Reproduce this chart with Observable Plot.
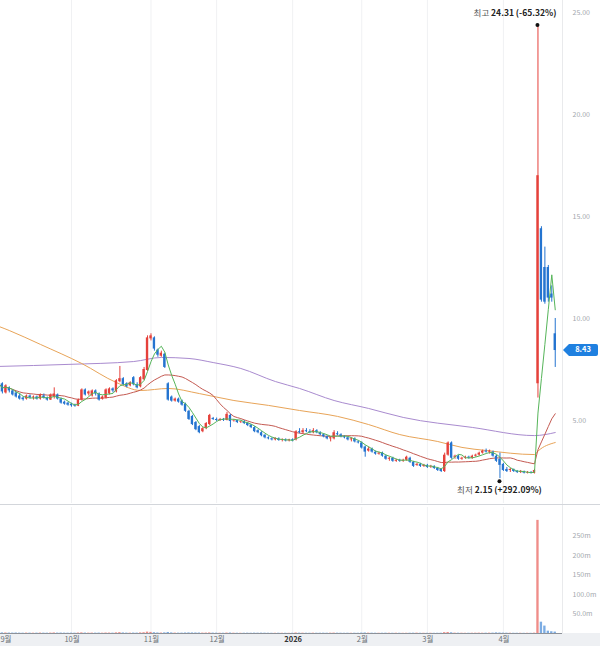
<!DOCTYPE html>
<html><head><meta charset="utf-8">
<script src="https://cdn.jsdelivr.net/npm/d3@7"></script>
<script src="https://cdn.jsdelivr.net/npm/@observablehq/plot@0.6"></script>
<style>
body{margin:0;background:#fff;font-family:'Noto Sans CJK KR',sans-serif;}
#wrap{width:600px;height:646px;position:relative;overflow:hidden}
#price{height:504px;border-bottom:1px solid #d3d6db}
#vol{height:141px;background:linear-gradient(#fff 0,#fff 128px,#eef0f3 128px)}
svg{display:block}
</style></head><body><div id="wrap"><div id="price"></div><div id="vol"></div></div>
<script>
// ---- data (daily OHLC, volume in millions) ----
const open=[6.95,6.8,6.35,6.6,6.45,6.35,6.2,6.1,6.05,6.2,6.1,6.15,6.05,6.2,6.1,6.0,6.15,6.25,6.05,5.9,5.85,5.8,5.75,5.7,6.0,6.5,6.3,6.2,6.45,6.3,6.05,6.1,6.3,6.55,6.4,6.9,7.05,6.8,6.7,7.1,6.75,6.65,7.0,7.45,9.0,9.05,8.45,8.15,8.25,6.8,6.15,5.95,6.05,5.95,5.8,5.45,5.2,4.9,4.7,4.45,4.6,4.8,5.1,5.05,5.0,5.05,5.0,5.25,4.98,5.0,4.92,4.95,4.85,4.78,4.65,4.5,4.4,4.28,4.15,4.1,4.05,4.1,4.02,4.05,4.0,4.05,4.05,4.45,4.4,4.5,4.45,4.4,4.5,4.4,4.3,4.2,4.1,4.1,4.35,4.3,4.2,4.15,4.05,4.1,3.95,3.9,3.7,3.5,3.6,3.45,3.35,3.4,3.25,3.1,3.15,3.0,3.05,3.0,3.05,3.15,2.95,2.8,2.85,2.75,2.8,2.72,2.75,2.65,2.6,2.5,3.3,3.9,3.2,3.25,3.1,3.15,3.2,3.15,3.25,3.3,3.4,3.5,3.45,3.45,3.25,3.1,2.85,2.6,2.55,2.6,2.5,2.45,2.5,2.42,2.45,2.4,6.8,14.4,12.5,12.5,11.2,9.25];
const high=[7.0,6.85,6.75,6.65,6.5,6.4,6.3,6.15,6.25,6.25,6.2,6.2,6.3,6.3,6.15,6.3,6.6,6.3,6.1,5.95,5.9,5.85,5.8,6.05,6.55,6.55,6.45,6.5,6.5,6.35,6.2,6.55,6.6,6.6,7.0,7.65,7.1,6.85,6.9,7.15,6.85,7.15,7.6,9.15,9.25,9.1,8.5,8.4,8.3,6.85,6.2,6.1,6.1,6.0,5.85,5.5,5.25,4.95,4.75,4.65,4.9,5.3,5.15,5.12,5.1,5.1,5.4,5.3,5.05,5.02,4.98,5.0,4.9,4.8,4.7,4.55,4.45,4.3,4.2,4.15,4.15,4.15,4.1,4.1,4.08,4.1,4.5,4.6,4.6,4.6,4.55,4.6,4.55,4.45,4.35,4.25,4.2,4.5,4.45,4.35,4.25,4.2,4.15,4.15,4.0,3.95,3.75,3.7,3.65,3.5,3.45,3.45,3.3,3.2,3.2,3.1,3.1,3.1,3.25,3.2,3.0,2.9,2.9,2.85,2.85,2.8,2.78,2.7,2.65,3.4,3.95,3.95,3.3,3.3,3.2,3.25,3.25,3.3,3.35,3.45,3.55,3.6,3.55,3.5,3.3,3.4,2.9,2.7,2.65,2.62,2.55,2.55,2.52,2.5,2.5,2.6,24.31,14.5,13.5,12.6,11.6,10.0];
const low=[6.7,6.3,6.3,6.35,6.2,6.1,6.0,5.95,6.0,6.05,6.0,6.0,6.0,6.05,5.95,5.98,6.05,6.0,5.8,5.75,5.7,5.65,5.65,5.68,5.95,6.2,6.2,6.15,6.2,5.95,6.0,6.05,6.25,6.35,6.35,6.85,6.7,6.6,6.65,6.7,6.55,6.6,6.95,7.4,8.9,8.4,8.1,8.1,7.55,5.95,5.9,5.9,5.85,5.7,5.4,5.0,4.75,4.5,4.35,4.4,4.55,4.75,5.0,4.95,4.95,4.95,4.98,4.65,4.92,4.85,4.85,4.8,4.7,4.6,4.4,4.35,4.2,4.1,4.05,4.0,4.0,3.98,3.95,3.95,3.95,3.95,4.0,4.35,4.35,4.4,4.35,4.35,4.35,4.25,4.15,4.05,3.95,4.05,4.25,4.15,4.1,4.0,3.95,3.9,3.85,3.6,3.2,3.45,3.4,3.3,3.3,3.2,3.05,3.0,2.95,2.95,2.95,2.95,3.0,2.9,2.7,2.75,2.7,2.7,2.65,2.65,2.6,2.5,2.45,2.45,3.25,3.1,3.1,3.05,3.05,3.1,3.1,3.1,3.2,3.25,3.35,3.4,3.35,3.2,2.95,2.15,2.5,2.45,2.45,2.45,2.4,2.4,2.38,2.38,2.38,2.38,6.1,10.8,10.7,10.8,10.8,7.6];
const close=[6.8,6.4,6.7,6.45,6.25,6.15,6.05,6.02,6.2,6.1,6.15,6.05,6.25,6.1,6.0,6.25,6.3,6.05,5.85,5.8,5.75,5.72,5.7,6.0,6.5,6.25,6.4,6.45,6.3,6.0,6.15,6.5,6.55,6.45,6.95,7.05,6.75,6.65,6.85,6.75,6.6,7.1,7.5,9.05,9.15,8.5,8.2,8.3,7.6,6.0,5.95,6.05,5.9,5.75,5.45,5.05,4.8,4.55,4.4,4.6,4.85,5.25,5.05,5.0,5.05,5.0,5.3,4.95,5.0,4.9,4.95,4.85,4.75,4.65,4.45,4.4,4.25,4.15,4.1,4.05,4.12,4.02,4.05,4.0,4.05,4.0,4.45,4.4,4.5,4.45,4.4,4.5,4.4,4.3,4.2,4.1,4.15,4.4,4.3,4.2,4.15,4.05,4.1,3.95,3.9,3.65,3.45,3.6,3.45,3.35,3.4,3.25,3.1,3.15,3.0,3.05,3.0,3.05,3.2,2.95,2.75,2.85,2.75,2.8,2.7,2.75,2.65,2.55,2.5,3.3,3.9,3.15,3.25,3.1,3.15,3.2,3.15,3.25,3.3,3.4,3.5,3.45,3.5,3.25,3.0,2.8,2.55,2.5,2.6,2.5,2.45,2.5,2.42,2.45,2.4,2.55,17.0,10.9,10.8,11.0,11.0,8.43];
const volume=[1.2,1.5,1.3,1.1,1.0,1.2,0.9,0.8,1.0,0.9,0.8,0.9,1.1,0.9,0.8,1.0,1.4,1.0,1.1,0.9,0.8,0.9,0.8,1.2,1.6,1.1,0.9,1.0,0.9,1.0,0.8,1.2,1.1,0.9,1.6,2.2,1.4,1.0,0.9,1.1,1.0,1.5,2.0,3.5,2.8,2.0,1.4,1.1,1.6,2.6,1.5,1.0,0.9,1.0,1.3,1.5,1.4,1.3,1.2,1.0,1.1,1.4,1.0,0.8,0.7,0.7,1.1,1.2,0.8,0.7,0.6,0.7,0.8,0.7,0.9,0.8,0.9,0.8,0.7,0.6,0.6,0.7,0.6,0.6,0.5,0.6,1.3,0.9,0.8,0.7,0.6,0.8,0.7,0.7,0.8,0.7,0.8,1.0,0.8,0.7,0.6,0.7,0.6,0.7,0.6,1.0,1.3,0.9,0.8,0.7,0.6,0.7,0.8,0.7,0.6,0.7,0.6,0.5,0.6,0.7,0.8,0.9,0.6,0.6,0.5,0.6,0.5,0.6,0.7,2.2,2.6,1.8,0.9,0.8,0.7,0.6,0.6,0.7,0.8,0.9,0.7,0.8,0.9,1.0,1.6,1.2,0.9,0.8,0.7,0.6,0.6,0.6,0.5,0.6,0.5,0.9,290,29,19,6,4.5,3.6];
// 60-day and 120-day moving averages (trading-day index, price)
const ma60Idx=[0,3,12,24,34,41,49,58,68,78,87,98,107,116,127,134,141,155,156,161];
const ma60=[9.61,9.41,8.73,7.79,6.86,6.47,6.57,6.32,5.98,5.74,5.49,5.2,4.8,4.31,3.97,3.68,3.53,3.33,3.5,3.92];
const ma120Idx=[0,20,39,47,55,62,70,80,87,97,107,117,137,155,161];
const ma120=[7.65,7.75,7.89,8.09,8.04,7.84,7.55,6.91,6.57,5.98,5.59,5.15,4.66,4.26,4.41];
const startDate="2025-09-02";
const holidays=["2025-11-27","2025-12-25","2026-01-01","2026-01-19","2026-02-16","2026-04-03"];
const yTicks=[5,10,15,20,25];
const volTicks=[50,100,150,200,250];
const volTickLabels=["50.0m","100.0m","150m","200m","250m"];
const highText=["최고","24.31 (-65.32%)"];
const lowText=["최저","2.15 (+292.09%)"];
const lastText="8.43";

const RED="#e5413b", BLUE="#2474d0";
const FONT="'Noto Sans CJK KR','Noto Sans',sans-serif";

// trading calendar
const dates=[]; {let d=new Date(startDate+"T00:00:00Z");
 while(dates.length<close.length){const w=d.getUTCDay(),s=d.toISOString().slice(0,10);
  if(w!==0&&w!==6&&!holidays.includes(s)) dates.push(new Date(d)); d.setUTCDate(d.getUTCDate()+1);}}
const bars=close.map((c,i)=>({i,date:dates[i],o:open[i],h:high[i],l:low[i],c,v:volume[i],col:c>=open[i]?RED:BLUE}));
const monthTicks=bars.filter((b,i)=>i===0||b.date.getUTCMonth()!==bars[i-1].date.getUTCMonth()).map(b=>b.i);
const monthLabel=i=>{const m=bars[i].date.getUTCMonth()+1;return m===1?String(bars[i].date.getUTCFullYear()):m+"월";};
const hiIdx=high.indexOf(d3.max(high)), loIdx=low.indexOf(d3.min(low));

const xDomain=[0.45,163.1];
const W=0.34;

const price=Plot.plot({
  width:600,height:504,marginTop:0,marginBottom:1,marginLeft:0,marginRight:38,
  style:{fontFamily:FONT,fontSize:"7px",background:"transparent",overflow:"visible"},
  x:{domain:xDomain,axis:null},
  y:{domain:[0.931,25.588]},
  color:{type:"identity"},
  marks:[
    Plot.ruleX(monthTicks,{stroke:"#f0f1f3"}),
    Plot.line(ma120,{x:ma120Idx,y:ma120,stroke:"#a98bcf",strokeWidth:1,curve:"monotone-x",clip:true}),
    Plot.line(ma60,{x:ma60Idx,y:ma60,stroke:"#e8a458",strokeWidth:1,curve:"monotone-x",clip:true}),
    Plot.lineY(bars,Plot.windowY({k:20,anchor:"end"},{x:"i",y:"c",stroke:"#c45a52",strokeWidth:1,clip:true})),
    Plot.ruleX(bars,{x:"i",y1:"l",y2:"h",stroke:"col",strokeWidth:1,clip:true}),
    Plot.rect(bars,{x1:d=>d.i-W,x2:d=>d.i+W,y1:"o",y2:"c",fill:"col",clip:true}),
    Plot.lineY(bars,Plot.windowY({k:5,anchor:"end"},{x:"i",y:"c",stroke:"#56b55a",strokeWidth:1,clip:true})),
    Plot.axisY({anchor:"right",ticks:yTicks,tickFormat:d=>d.toFixed(2),tickSize:0,tickPadding:10,fill:"#a3a7ad",label:null})
  ]
});
document.getElementById("price").appendChild(price);

const vol=Plot.plot({
  width:600,height:141,marginTop:2,marginBottom:13,marginLeft:0,marginRight:38,
  style:{fontFamily:FONT,fontSize:"7px",background:"transparent",overflow:"visible"},
  x:{domain:xDomain,axis:null},
  y:{domain:[0,323]},
  color:{type:"identity"},
  marks:[
    Plot.ruleX(monthTicks,{stroke:"#f0f1f3"}),
    Plot.rect(bars,{x1:d=>d.i-W,x2:d=>d.i+W,y1:0,y2:"v",fill:"col",fillOpacity:0.6,clip:true}),
    Plot.ruleY([0],{stroke:"#8d9299"}),
    Plot.axisY({anchor:"right",ticks:volTicks,tickFormat:d=>volTickLabels[volTicks.indexOf(d)],tickSize:0,tickPadding:10,fill:"#a3a7ad",label:null}),
    Plot.axisX({anchor:"bottom",ticks:monthTicks,tickFormat:monthLabel,tickSize:0,tickPadding:3,fill:"#6b7075",label:null,fontSize:"7.5px"})
  ]
});
document.getElementById("vol").appendChild(vol);
d3.select(vol).selectAll("text").filter(function(){return this.textContent==="2026";}).attr("font-weight","bold").attr("fill","#333");
// keep the first (partially off-chart) month label inside the picture
d3.select(vol).selectAll("text").filter(function(){return this.textContent===monthLabel(monthTicks[0]);})
  .attr("text-anchor","start").each(function(){const p=this.closest("g[transform]");}).attr("x",1).attr("dx",null);
d3.select(vol).selectAll("g").filter(function(){const t=this.querySelector(":scope > text");return t&&t.textContent===monthLabel(monthTicks[0]);})
  .each(function(){const tr=this.getAttribute("transform")||"";const m=tr.match(/translate\(([-\d.]+),([-\d.]+)\)/);if(m&&+m[1]<1)this.setAttribute("transform",`translate(1,${m[2]})`);});

// separators at right edge of plot area
for(const [svg,h] of [[price,504],[vol,128]]){
  d3.select(svg).append("line").attr("x1",562.5).attr("x2",562.5).attr("y1",0).attr("y2",h).attr("stroke","#e9eaec");
}

// annotations via the plot's scales
const sx=price.scale("x"), sy=price.scale("y");
const g=d3.select(price).append("g").attr("font-family",FONT).attr("font-size","8.5px");
function annot(idx,val,texts,dy,dotDy,anchor,dx){
  const x=sx.apply(idx), y=sy.apply(val);
  g.append("circle").attr("cx",x).attr("cy",y+dotDy).attr("r",2).attr("fill","#111");
  const t=g.append("text").attr("x",x+dx).attr("y",y+dy).attr("text-anchor",anchor).attr("dominant-baseline","middle");
  t.append("tspan").attr("fill","#555").text(texts[0]+" ");
  t.append("tspan").attr("fill","#222").attr("font-weight","bold").text(texts[1]);
}
annot(hiIdx,high[hiIdx],highText,-12,-1,"end",19);
annot(loIdx,low[loIdx],lowText,13,3,"middle",0);

// last price tag
const ly=sy.apply(close[close.length-1]);
const tag=d3.select(price).append("g");
tag.append("path").attr("d",`M563,${ly} L569,${ly-6} L596,${ly-6} Q598,${ly-6} 598,${ly-4} L598,${ly+4} Q598,${ly+6} 596,${ly+6} L569,${ly+6} Z`).attr("fill","#1f80e0");
tag.append("text").attr("x",583).attr("y",ly).attr("dominant-baseline","middle").attr("text-anchor","middle")
  .attr("fill","#fff").attr("font-weight","bold").attr("font-size","7.5px").attr("font-family",FONT).text(lastText);
</script></body></html>
